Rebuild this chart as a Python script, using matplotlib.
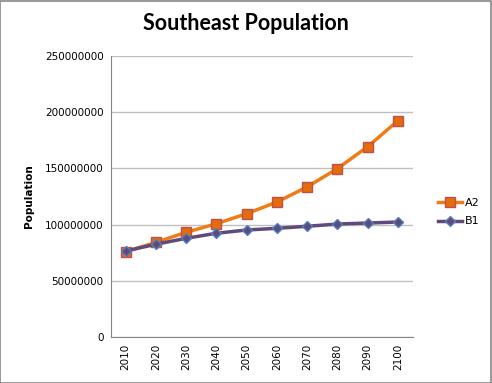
import matplotlib.pyplot as plt
from matplotlib.patches import Rectangle

years = ['2010', '2020', '2030', '2040', '2050', '2060', '2070', '2080', '2090', '2100']
a2 = [75.9e6, 84.2e6, 93.1e6, 100.8e6, 109.7e6, 120.1e6, 133.5e6, 149.8e6, 169.3e6, 192.4e6]
b1 = [76.5e6, 82.5e6, 87.8e6, 92.3e6, 95.2e6, 96.7e6, 98.5e6, 100.5e6, 101.4e6, 102.3e6]
yticks = [0, 50000000, 100000000, 150000000, 200000000, 250000000]

fig = plt.figure(figsize=(4.92, 3.83), dpi=100)
fig.patches.append(Rectangle((0.001, 0.001), 0.997, 0.997, transform=fig.transFigure,
                             fill=False, edgecolor='#868686', linewidth=1.2))

ax = fig.add_axes([110.5 / 492, 1 - 337 / 383, 302.5 / 492, 281 / 383])
x = list(range(len(years)))
l1, = ax.plot(x, a2, color='#F07C18', linewidth=2.5, marker='s', markersize=7.5,
              markerfacecolor='#E46C0A', markeredgecolor='#C0504D', markeredgewidth=1)
l2, = ax.plot(x, b1, color='#604A7B', linewidth=2.5, marker='D', markersize=5.5,
              markerfacecolor='#604A7B', markeredgecolor='#4F81BD', markeredgewidth=1)

ax.set_xlim(-0.5, len(years) - 0.5)
ax.set_ylim(0, 250000000)
ax.set_yticks(yticks)
ax.set_yticklabels([str(v) for v in yticks], fontsize=7.5)
ax.set_xticks(x)
ax.set_xticklabels(years, rotation=90, fontsize=7.5)
ax.tick_params(length=0, pad=5)
ax.grid(axis='y', color='#BFBFBF', linewidth=1)
ax.set_axisbelow(True)
for s in ['top', 'right']:
    ax.spines[s].set_visible(False)
for s in ['left', 'bottom']:
    ax.spines[s].set_color('#868686')
ax.set_ylabel('Population', fontsize=7.5, fontweight='bold', labelpad=8)

fig.text(0.5, 1 - 24 / 383, 'Southeast Population', ha='center', va='center',
         fontsize=15.5, fontweight='bold', family='Lato')

fig.legend([l1, l2], ['A2', 'B1'], loc='center left', bbox_to_anchor=(428 / 492, 1 - 212 / 383),
           frameon=False, fontsize=8, handlelength=2.2, handletextpad=0.2, labelspacing=0.8)

fig.savefig('out.png', dpi=100)
